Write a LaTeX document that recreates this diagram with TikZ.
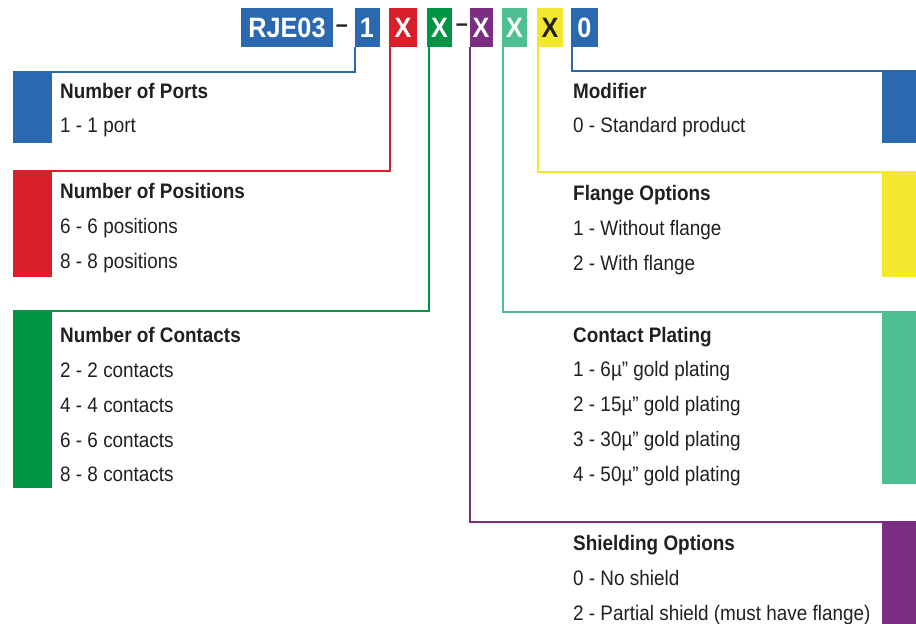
\documentclass[tikz,border=0pt]{standalone}
\usepackage{fontspec}
\setmainfont[FakeStretch=0.9]{Liberation Sans}
\usepackage{xcolor}
\usetikzlibrary{positioning}

\definecolor{pnblue}{HTML}{2A69B0}
\definecolor{pnred}{HTML}{D9202A}
\definecolor{pngreen}{HTML}{009444}
\definecolor{pnpurple}{HTML}{7B2D82}
\definecolor{pnteal}{HTML}{4DBF93}
\definecolor{pnyellow}{HTML}{F4E82E}
\definecolor{ink}{HTML}{231F20}

\begin{document}
\begin{tikzpicture}[x=1pt,y=-1pt,font=\fontsize{21}{34.7}\selectfont]
    \tikzset{
      code/.style={fill=#1, text=white, inner sep=0pt, minimum height=39pt,
        font=\fontsize{28}{28}\selectfont\bfseries},
      joiner/.style={text=ink, anchor=base, inner sep=0pt, font=\fontsize{24}{24}\selectfont\bfseries},
      bar/.style={fill=#1, inner sep=0pt},
      lead/.style={draw=#1, line width=2pt},
      info/.style={anchor=base west, align=left, inner sep=0pt, text=ink}
    }
    \useasboundingbox (0,0) rectangle (916,624);
    % part number
    \node[code=pnblue, minimum width=92pt] (series) at (287,27.5) {RJE03};
    \node[joiner] (dasha) at (342,32.7) {–};
    \node[code=pnblue, minimum width=25pt] (ports) at (367,27.5) {1};
    \node[code=pnred, minimum width=28pt] (positions) at (403,27.5) {X};
    \node[code=pngreen, minimum width=25pt] (contacts) at (439.5,27.5) {X};
    \node[joiner] (dashb) at (462,31.7) {–};
    \node[code=pnpurple, minimum width=23pt] (shielding) at (481,27.5) {X};
    \node[code=pnteal, minimum width=25pt] (plating) at (514.5,27.5) {X};
    \node[code=pnyellow, text=ink, minimum width=25.5pt] (flange) at (550,27.5) {X};
    \node[code=pnblue, minimum width=27pt] (modifier) at (584.5,27.5) {0};
    % colour bars
    \node[bar=pnblue, minimum width=39pt, minimum height=71pt] (portsbar) at (32.5,107.5) {};
    \node[bar=pnred, minimum width=39pt, minimum height=106pt] (posbar) at (32.5,224) {};
    \node[bar=pngreen, minimum width=39pt, minimum height=177pt] (contbar) at (32.5,399.5) {};
    \node[bar=pnblue, minimum width=34pt, minimum height=72pt] (modbar) at (899,107) {};
    \node[bar=pnyellow, minimum width=34pt, minimum height=105pt] (flgbar) at (899,224.5) {};
    \node[bar=pnteal, minimum width=34pt, minimum height=172pt] (platbar) at (899,398) {};
    \node[bar=pnpurple, minimum width=34pt, minimum height=102pt] (shdbar) at (899,573) {};
    % leads
    \draw[lead=pnblue] ([xshift=1pt]ports.south west) |- (portsbar.north west);
    \draw[lead=pnred] ([xshift=1pt]positions.south west) |- (posbar.north west);
    \draw[lead=pngreen] ([xshift=2pt]contacts.south west) |- (contbar.north west);
    \draw[lead=pnpurple] ([xshift=1pt]shielding.south west) |- (shdbar.north east);
    \draw[lead=pnteal] ([xshift=1pt]plating.south west) |- (platbar.north east);
    \draw[lead=pnyellow] ([xshift=1pt]flange.south west) |- (flgbar.north east);
    \draw[lead=pnblue] ([xshift=1pt]modifier.south west) |- (modbar.north east);
    % descriptions (placed by the baseline of their last line)
    \node[info] (portstxt) at (60,132.7) {\textbf{Number of Ports}\\1 - 1 port};
    \node[info] (postxt) at (60,268) {\textbf{Number of Positions}\\6 - 6 positions\\8 - 8 positions};
    \node[info] (conttxt) at (60,481.7) {\textbf{Number of Contacts}\\2 - 2 contacts\\4 - 4 contacts\\6 - 6 contacts\\8 - 8 contacts};
    \node[info] (modtxt) at (573,132.7) {\textbf{Modifier}\\0 - Standard product};
    \node[info] (flgtxt) at (573,270) {\textbf{Flange Options}\\1 - Without flange\\2 - With flange};
    \node[info] (plattxt) at (573,481) {\textbf{Contact Plating}\\1 - 6µ” gold plating\\2 - 15µ” gold plating\\3 - 30µ” gold plating\\4 - 50µ” gold plating};
    \node[info] (shdtxt) at (573,620) {\textbf{Shielding Options}\\0 - No shield\\2 - Partial shield (must have flange)};
\end{tikzpicture}
\end{document}
